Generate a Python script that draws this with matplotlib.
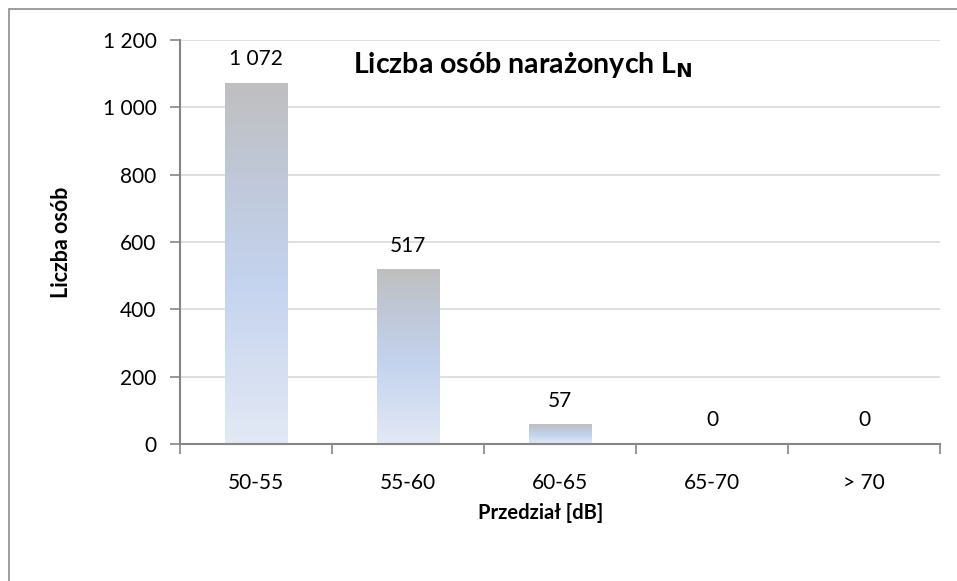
import matplotlib.pyplot as plt
import numpy as np
from matplotlib.colors import LinearSegmentedColormap
from matplotlib.patches import Rectangle

# dane
przedzialy = ['50-55', '55-60', '60-65', '65-70', '> 70']
liczba_osob = [1072, 517, 57, 0, 0]
y_ticks = [0, 200, 400, 600, 800, 1000, 1200]

plt.rcParams['font.family'] = ['Lato', 'DejaVu Sans']

W, H = 957, 581
fig = plt.figure(figsize=(W / 100, H / 100), dpi=100)
fig.patch.set_facecolor('white')

# ramka wykresu (widoczna tylko z lewej i u gory)
fig.patches.append(Rectangle((9 / W, -0.1), 1.2, (H - 9) / H + 0.1,
                             transform=fig.transFigure, fill=False,
                             edgecolor='#8c8c8c', linewidth=1.2))

ax = fig.add_axes([180 / W, (H - 444) / H, (940 - 180) / W, (444 - 40) / H])

def fmt(v):
    return f'{v:,}'.replace(',', ' ')

cmap = LinearSegmentedColormap.from_list(
    'bar', [(0.0, '#E3E9F5'), (0.45, '#C4D3EE'), (0.75, '#C0C8D8'), (1.0, '#BFBFBF')])
grad = np.linspace(0, 1, 256).reshape(-1, 1)

x = np.arange(len(przedzialy))
bw = 0.41
bars = ax.bar(x, liczba_osob, width=bw, color='none', zorder=2)
for b, v in zip(bars, liczba_osob):
    if v > 0:
        x0 = b.get_x()
        ax.imshow(grad, cmap=cmap, origin='lower', aspect='auto',
                  extent=[x0, x0 + bw, 0, v], zorder=2, interpolation='bilinear')
    ax.annotate(fmt(v), (b.get_x() + bw / 2, v), xytext=(0, 10),
                textcoords='offset points', ha='center', va='bottom', fontsize=15)

ax.set_xlim(-0.5, len(przedzialy) - 0.5)
ax.set_ylim(0, 1200)
ax.set_yticks(y_ticks)
ax.set_yticklabels([fmt(t) for t in y_ticks])
ax.yaxis.grid(True, color='#d9d9d9', linewidth=1.2, zorder=0)
ax.set_axisbelow(True)

ax.set_xticks(x)
ax.set_xticklabels(przedzialy)
ax.set_xticks(np.arange(len(przedzialy) + 1) - 0.5, minor=True)
ax.tick_params(axis='x', which='major', length=0, pad=21, labelsize=15)
ax.tick_params(axis='x', which='minor', length=7, width=1.2, color='#868686', direction='out')
ax.tick_params(axis='y', length=7, width=1.2, color='#868686', pad=10, labelsize=15)

for s in ['top', 'right']:
    ax.spines[s].set_visible(False)
for s in ['left', 'bottom']:
    ax.spines[s].set_color('#868686')
    ax.spines[s].set_linewidth(1.5)

ax.set_ylabel('Liczba osób', fontsize=15.5, fontweight='bold', labelpad=22)
ax.set_xlabel('Przedział [dB]', fontsize=14.5, fontweight='bold')
ax.xaxis.set_label_coords((541 - 180) / 760, -0.145)

ax.text(0.227, 0.938, r'Liczba osób narażonych L$_\mathbf{N}$', transform=ax.transAxes,
        fontsize=20.5, fontweight='bold', ha='left', va='center')

fig.savefig('out.png', dpi=100)
